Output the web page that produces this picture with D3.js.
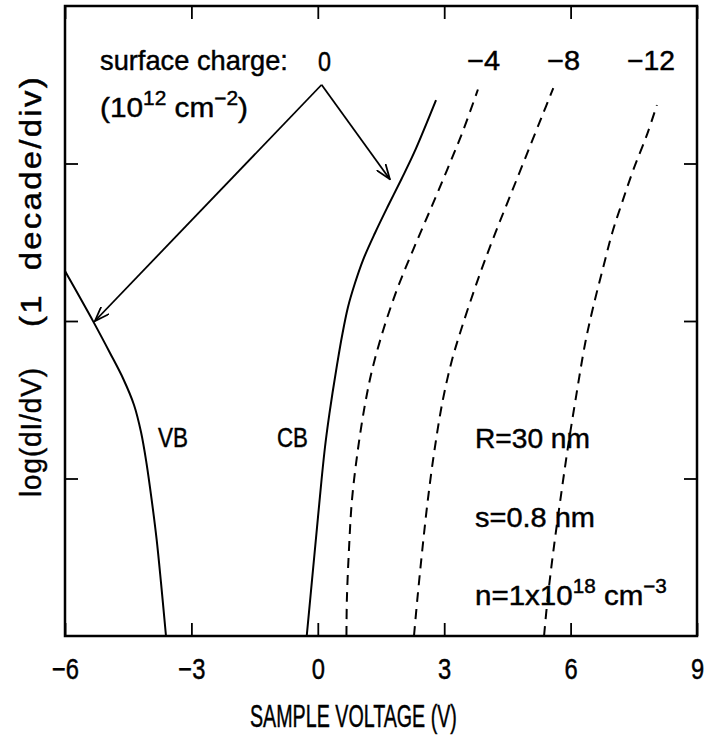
<!DOCTYPE html>
<html>
<head>
<meta charset="utf-8">
<script src="https://cdn.jsdelivr.net/npm/d3@7"></script>
<style>
  body { margin: 0; background: #fff; }
  text { font-family: "Liberation Sans", Arial, sans-serif; fill: #000; stroke: #000; stroke-width: 0.45; white-space: pre; }
</style>
</head>
<body>
<div id="chart"></div>
<script>
// axis ticks
const xTicks = [-6, -3, 0, 3, 6, 9]
const yTicks = [1, 2, 3]

// curves: sample voltage (V) vs log(dI/dV) in decades above the bottom
const vbV   = [-6.000, -5.328, -4.932, -4.616, -4.362, -4.196, -4.066, -3.942, -3.824, -3.721, -3.603]
const vbLog = [ 2.317,  1.996,  1.797,  1.632,  1.467,  1.295,  1.098,  0.863,  0.610,  0.337,  0.000]

const cbV   = [-0.263, -0.173, -0.083, 0.005, 0.093, 0.171, 0.254, 0.349, 0.456, 0.575, 0.717, 0.883, 1.073, 1.358, 1.666, 1.987, 2.283, 2.806]
const cbLog = [ 0.000,  0.254,  0.508, 0.756, 1.003, 1.200, 1.371, 1.543, 1.721, 1.905, 2.089, 2.241, 2.387, 2.559, 2.730, 2.902, 3.067, 3.403]

const m4V   = [0.68, 0.69, 0.74, 0.81, 0.95, 1.12, 1.29, 1.55, 1.88, 2.26, 2.66, 3.07, 3.45, 3.80]
const m4Log = [0.00, 0.23, 0.55, 0.86, 1.18, 1.47, 1.69, 1.94, 2.20, 2.45, 2.70, 2.96, 3.21, 3.47]

const m8V   = [2.283, 2.361, 2.480, 2.611, 2.770, 2.967, 3.185, 3.399, 3.714, 3.968, 4.270, 4.593, 4.934, 5.314, 5.589]
const m8Log = [0.000, 0.229, 0.546, 0.863, 1.181, 1.498, 1.752, 1.943, 2.197, 2.387, 2.597, 2.813, 3.041, 3.295, 3.479]

const m12V   = [5.370, 5.452, 5.594, 5.756, 5.927, 6.116, 6.347, 6.536, 6.776, 6.987, 7.218, 7.488, 7.818, 8.048]
const m12Log = [0.000, 0.229, 0.546, 0.863, 1.181, 1.498, 1.860, 2.089, 2.343, 2.559, 2.749, 2.959, 3.187, 3.371]

// arrows from the "0" label
const arrowFrom = [0.09, 3.50]
const arrowTo   = [[1.71, 2.90], [-5.29, 2.00]]

const margin = { top: 6, right: 9, bottom: 100, left: 65 }
const width = 632
const height = 630

const svg = d3.select('#chart')
  .append('svg')
  .attr('width', 706)
  .attr('height', 736)

svg.append('defs').append('marker')
  .attr('id', 'arr')
  .attr('viewBox', '0 0 16 12')
  .attr('refX', 15)
  .attr('refY', 6)
  .attr('markerWidth', 16)
  .attr('markerHeight', 12)
  .attr('markerUnits', 'userSpaceOnUse')
  .attr('orient', 'auto')
  .append('path')
  .attr('d', 'M0,0.5L15,6L0,11.5')
  .attr('fill', 'none')
  .attr('stroke', '#000')
  .attr('stroke-width', 1.8)

const g = svg.append('g')
  .attr('transform', `translate(${margin.left}, ${margin.top})`)

const x = d3.scaleLinear().domain([-6, 9]).range([0, width])
const y = d3.scaleLinear().domain([0, 4]).range([height, 0])

// axes with inward ticks
const tickLen = 13
const bottomAxis = g.append('g')
  .attr('transform', `translate(0, ${height})`)
  .call(d3.axisBottom(x).tickValues(xTicks).tickSizeInner(-tickLen).tickSizeOuter(0).tickPadding(22))
g.append('g')
  .call(d3.axisTop(x).tickValues(xTicks).tickSizeInner(-tickLen).tickSizeOuter(0).tickFormat(''))
g.append('g')
  .call(d3.axisLeft(y).tickValues(yTicks).tickSizeInner(-tickLen).tickSizeOuter(0).tickFormat(''))
g.append('g')
  .attr('transform', `translate(${width}, 0)`)
  .call(d3.axisRight(y).tickValues(yTicks).tickSizeInner(-tickLen).tickSizeOuter(0).tickFormat(''))

g.selectAll('.domain').remove()
g.selectAll('.tick line').attr('stroke', '#000').attr('stroke-width', 1.8)
bottomAxis.selectAll('text')
  .attr('font-size', 29)
  .attr('font-family', '"Liberation Sans", Arial, sans-serif')
  .attr('transform', 'scale(0.82, 1)')

// frame
g.append('rect')
  .attr('width', width)
  .attr('height', height)
  .attr('fill', 'none')
  .attr('stroke', '#000')
  .attr('stroke-width', 2.5)

// curves
const line = d3.line()
  .x(d => x(d[0]))
  .y(d => y(d[1]))
  .curve(d3.curveCatmullRom.alpha(0.5))

const curves = [
  { v: vbV, l: vbLog, dash: null },
  { v: cbV, l: cbLog, dash: null },
  { v: m4V, l: m4Log, dash: '10,7' },
  { v: m8V, l: m8Log, dash: '10,7' },
  { v: m12V, l: m12Log, dash: '10,7' }
]

curves.forEach(c => {
  g.append('path')
    .datum(d3.zip(c.v, c.l))
    .attr('d', line)
    .attr('fill', 'none')
    .attr('stroke', '#000')
    .attr('stroke-width', 2)
    .attr('stroke-dasharray', c.dash)
})

// arrows
arrowTo.forEach(t => {
  g.append('line')
    .attr('x1', x(arrowFrom[0]))
    .attr('y1', y(arrowFrom[1]))
    .attr('x2', x(t[0]))
    .attr('y2', y(t[1]))
    .attr('stroke', '#000')
    .attr('stroke-width', 1.8)
    .attr('marker-end', 'url(#arr)')
})

// narrow font look: squeeze each label to the width it has in the figure
function label(parts, px, py, w, size, rotate, spacing) {
  const holder = svg.append('g')
  const t = holder.append('text').attr('font-size', size)
  if (spacing) t.attr('letter-spacing', spacing)
  parts.forEach(p => {
    const s = t.append('tspan').text(p.t)
    if (p.sup) s.attr('font-size', size * 0.7).attr('dy', -size * 0.42)
    if (p.down) s.attr('dy', size * 0.42)
  })
  const bw = t.node().getBBox().width
  const sx = w ? w / bw : 1
  const r = rotate ? ' rotate(-90)' : ''
  holder.attr('transform', `translate(${px}, ${py})${r} scale(${sx}, 1)`)
  return t
}

label([{ t: 'surface charge:' }], 100, 70, 188, 28)
label([{ t: '0' }], 318, 71, 13, 28)
label([{ t: '(10' }, { t: '12', sup: true }, { t: ' cm', down: true }, { t: '\u22122', sup: true }, { t: ')', down: true }], 100, 117, 148, 28)
label([{ t: '\u22124' }], 467, 70, 33, 28)
label([{ t: '\u22128' }], 547, 70, 33, 28)
label([{ t: '\u221212' }], 627, 70, 48, 28)
label([{ t: 'VB' }], 158, 447, 30, 28)
label([{ t: 'CB' }], 277, 447, 31, 28)
label([{ t: 'R=30 nm' }], 475, 448, 115, 28)
label([{ t: 's=0.8 nm' }], 475, 527, 120, 28)
label([{ t: 'n=1x10' }, { t: '18', sup: true }, { t: ' cm', down: true }, { t: '\u22123', sup: true }], 475, 605, 192, 28)
label([{ t: 'SAMPLE VOLTAGE (V)' }], 250, 727, 207, 31)
label([{ t: 'log(dI/dV)' }], 41, 497, 130, 29, true, 1)
label([{ t: '(1  decade/div)' }], 41, 327, 252, 29, true, 2)
</script>
</body>
</html>
